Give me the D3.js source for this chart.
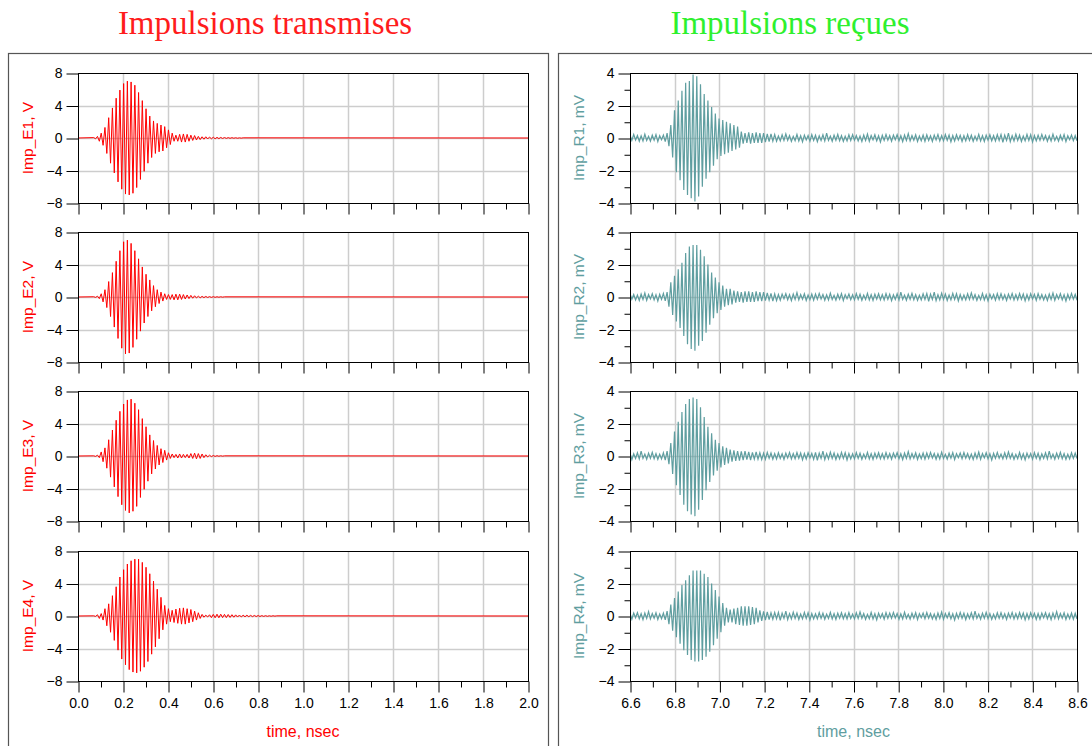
<!DOCTYPE html>
<html>
<head>
<meta charset="utf-8">
<script src="https://cdn.jsdelivr.net/npm/d3@7"></script>
<style>
  body { margin: 0; background: #fff; }
  svg { display: block; }
</style>
</head>
<body>
<script>
const width = 1092;
const height = 746;

// ---- transmitted pulses (V), one value per half period, from tTx0 in steps of dtTx (ns)
const tTx0 = 0.07;
const dtTx = 0.0083;
const txDomain = [0, 2];

const impE1 = [
  0.05,-0.1,0.2,-0.4,0.6,-0.9,1.3,-1.9,2.5,-3.1,
  3.7,-4.3,4.9,-5.4,5.9,-6.3,6.7,-6.9,7.0,-7.0,
  6.9,-6.8,6.5,-6.1,5.6,-5.1,4.6,-4.1,3.6,-3.1,
  2.7,-2.4,2.1,-1.9,1.8,-1.7,1.6,-1.6,1.4,-1.2,
  1.0,-0.8,0.6,-0.4,0.35,-0.4,0.45,-0.5,0.5,-0.5,
  0.45,-0.4,0.35,-0.3,0.3,-0.25,0.2,-0.2,0.15,-0.15,
  0.15,-0.12,0.12,-0.1,0.1,-0.1,0.08,-0.08,0.07,-0.06,
  0.06,-0.05,0.05,-0.04,0.04,-0.03,0.03,-0.03,0.02,-0.02,0.02
];
const impE2 = [
  0.03,-0.05,0.1,-0.2,0.4,-0.6,0.9,-1.3,1.9,-2.4,
  3.0,-3.7,4.4,-5.1,5.7,-6.3,6.8,-7.0,7.0,-6.9,
  6.6,-6.2,5.7,-5.2,4.7,-4.2,3.7,-3.2,2.8,-2.4,
  2.1,-1.7,1.4,-1.2,0.9,-0.8,0.6,-0.5,0.4,-0.3,
  0.3,-0.3,0.3,-0.35,0.35,-0.35,0.35,-0.3,0.3,-0.25,
  0.25,-0.2,0.2,-0.15,0.15,-0.12,0.1,-0.1,0.08,-0.08,
  0.07,-0.06,0.05,-0.05,0.04,-0.04,0.03,-0.03,0.03,-0.02,0.02
];
const impE3 = [
  0.02,-0.05,0.1,-0.2,0.5,-0.7,1.0,-1.5,2.0,-2.6,
  3.2,-3.8,4.4,-5.0,5.5,-6.0,6.4,-6.7,6.9,-7.0,
  7.0,-6.8,6.5,-6.2,5.7,-5.1,4.6,-4.1,3.6,-3.1,
  2.6,-2.2,1.9,-1.6,1.3,-1.1,0.9,-0.8,0.7,-0.5,
  0.4,-0.3,0.25,-0.2,0.2,-0.25,0.25,-0.25,0.2,-0.2,
  0.2,-0.25,0.3,-0.3,0.35,-0.35,0.3,-0.3,0.25,-0.2,
  0.15,-0.12,0.1,-0.08,0.06,-0.05,0.04,-0.03,0.03,-0.02,0.02
];
const impE4 = [
  0.02,-0.05,0.15,-0.3,0.3,-0.5,0.9,-1.2,1.5,-2.0,
  2.5,-3.0,3.6,-4.2,4.8,-5.3,5.7,-6.0,6.4,-6.6,
  6.8,-6.9,7.0,-7.0,7.0,-6.8,6.6,-6.3,6.0,-5.6,
  5.2,-4.7,4.3,-3.8,3.3,-2.8,2.3,-1.7,1.3,-1.0,
  0.9,-0.7,0.7,-0.8,0.85,-0.9,0.95,-1.0,1.0,-1.0,
  0.9,-0.85,0.8,-0.7,0.6,-0.5,0.4,-0.3,0.2,-0.15,
  0.1,-0.12,0.15,-0.2,0.2,-0.22,0.22,-0.22,0.22,-0.2,
  0.2,-0.2,0.18,-0.18,0.16,-0.15,0.14,-0.13,0.12,-0.12,
  0.1,-0.1,0.1,-0.09,0.08,-0.08,0.07,-0.07,0.06,-0.06,
  0.05,-0.05,0.04,-0.04,0.03,-0.03,0.03,-0.02,0.02
];

// ---- received pulses (mV), from tRx0 in steps of dtRx (ns)
const tRx0 = 6.6;
const dtRx = 0.0083;
const rxDomain = [6.6, 8.6];

const impR1 = [
  0.18,-0.15,0.22,-0.12,0.16,-0.2,0.14,-0.18,0.24,-0.15,0.1,-0.2,0.17,-0.14,0.21,-0.22,0.15,-0.1,0.18,-0.22,
  0.3,-0.5,0.8,-1.2,1.7,-2.1,2.3,-2.6,2.9,-3.2,3.4,-3.5,3.5,-3.7,3.9,-3.9,3.8,-3.6,3.3,-3.0,
  2.7,-2.5,2.3,-2.1,1.9,-1.7,1.5,-1.3,1.2,-1.1,1.1,-1.0,1.0,-0.9,0.9,-0.8,0.8,-0.7,0.7,-0.6,
  0.4,-0.35,0.3,-0.3,0.35,-0.35,0.3,-0.3,0.35,-0.3,0.3,-0.3,0.3,-0.25,0.25,-0.22,0.25,-0.2,0.22,-0.2,
  0.12,-0.18,0.2,-0.15,0.25,-0.14,0.15,-0.21,0.1,-0.17,0.22,-0.18,0.14,-0.24,0.18,-0.12,0.15,-0.2,0.21,-0.15,
  0.17,-0.22,0.14,-0.15,0.2,-0.18,0.3,-0.15,0.12,-0.2,0.18,-0.14,0.22,-0.17,0.15,-0.21,0.11,-0.18,0.2,-0.15,
  0.21,-0.14,0.15,-0.18,0.12,-0.22,0.18,-0.15,0.24,-0.2,0.15,-0.12,0.2,-0.18,0.14,-0.25,0.17,-0.15,0.22,-0.14,
  0.15,-0.2,0.18,-0.11,0.21,-0.17,0.14,-0.22,0.18,-0.15,0.27,-0.18,0.15,-0.14,0.2,-0.21,0.12,-0.17,0.18,-0.2,
  0.2,-0.15,0.14,-0.21,0.18,-0.12,0.22,-0.18,0.15,-0.17,0.21,-0.14,0.18,-0.24,0.15,-0.18,0.2,-0.12,0.17,-0.21,
  0.14,-0.18,0.21,-0.15,0.17,-0.2,0.12,-0.15,0.22,-0.18,0.15,-0.21,0.18,-0.14,0.2,-0.17,0.15,-0.18,0.21,-0.15,
  0.22,-0.27,0.18,-0.15,0.3,-0.22,0.15,-0.18,0.24,-0.15,0.18,-0.21,0.12,-0.18,0.22,-0.15,0.2,-0.24,0.15,-0.18,
  0.18,-0.15,0.22,-0.12,0.16,-0.2,0.14,-0.18,0.24,-0.15,0.1,-0.2,0.17,-0.14,0.21,-0.22,0.15,-0.1,0.18,-0.17,
  0.15,-0.18
];
const impR2 = [
  0.21,-0.14,0.15,-0.18,0.12,-0.22,0.18,-0.15,0.24,-0.2,0.15,-0.12,0.2,-0.18,0.14,-0.25,0.17,-0.15,0.22,-0.24,
  0.3,-0.6,0.9,-1.1,1.3,-1.5,1.7,-1.9,2.1,-2.4,2.7,-2.9,3.1,-3.2,3.2,-3.3,3.2,-3.0,2.9,-2.7,
  2.5,-2.2,2.0,-1.7,1.5,-1.3,1.2,-1.0,0.9,-0.8,0.7,-0.6,0.5,-0.5,0.5,-0.45,0.4,-0.35,0.35,-0.3,
  0.3,-0.35,0.35,-0.3,0.35,-0.3,0.3,-0.3,0.35,-0.25,0.3,-0.25,0.3,-0.22,0.25,-0.2,0.22,-0.25,0.2,-0.22,
  0.15,-0.2,0.18,-0.11,0.21,-0.17,0.14,-0.22,0.18,-0.15,0.27,-0.18,0.15,-0.14,0.2,-0.21,0.12,-0.17,0.18,-0.2,
  0.18,-0.15,0.22,-0.12,0.16,-0.2,0.14,-0.18,0.24,-0.15,0.1,-0.2,0.17,-0.14,0.21,-0.22,0.15,-0.1,0.18,-0.17,
  0.14,-0.18,0.21,-0.15,0.17,-0.2,0.12,-0.15,0.22,-0.18,0.15,-0.21,0.18,-0.14,0.2,-0.17,0.15,-0.18,0.21,-0.15,
  0.17,-0.22,0.14,-0.15,0.2,-0.18,0.3,-0.15,0.12,-0.2,0.18,-0.14,0.22,-0.17,0.15,-0.21,0.11,-0.18,0.2,-0.15,
  0.22,-0.27,0.18,-0.15,0.3,-0.22,0.15,-0.18,0.24,-0.15,0.18,-0.21,0.12,-0.18,0.22,-0.15,0.2,-0.24,0.15,-0.18,
  0.12,-0.18,0.2,-0.15,0.25,-0.14,0.15,-0.21,0.1,-0.17,0.22,-0.18,0.14,-0.24,0.18,-0.12,0.15,-0.2,0.21,-0.15,
  0.2,-0.15,0.14,-0.21,0.18,-0.12,0.22,-0.18,0.15,-0.17,0.21,-0.14,0.18,-0.24,0.15,-0.18,0.2,-0.12,0.17,-0.21,
  0.21,-0.14,0.15,-0.18,0.12,-0.22,0.18,-0.15,0.24,-0.2,0.15,-0.12,0.2,-0.18,0.14,-0.25,0.17,-0.15,0.22,-0.14,
  0.16,-0.2
];
const impR3 = [
  0.17,-0.22,0.14,-0.15,0.2,-0.18,0.3,-0.15,0.12,-0.2,0.18,-0.14,0.22,-0.17,0.15,-0.21,0.11,-0.18,0.2,-0.25,
  0.3,-0.5,0.8,-1.1,1.5,-1.8,2.1,-2.4,2.7,-3.0,3.2,-3.4,3.5,-3.6,3.6,-3.7,3.5,-3.3,3.0,-2.7,
  2.4,-2.1,1.8,-1.6,1.4,-1.2,1.0,-0.9,0.8,-0.7,0.6,-0.55,0.5,-0.45,0.4,-0.35,0.35,-0.3,0.3,-0.28,
  0.28,-0.25,0.3,-0.22,0.25,-0.25,0.22,-0.2,0.25,-0.2,0.2,-0.22,0.18,-0.2,0.22,-0.15,0.18,-0.2,0.15,-0.18,
  0.2,-0.15,0.14,-0.21,0.18,-0.12,0.22,-0.18,0.15,-0.17,0.21,-0.14,0.18,-0.24,0.15,-0.18,0.2,-0.12,0.17,-0.21,
  0.22,-0.27,0.18,-0.15,0.3,-0.22,0.15,-0.18,0.24,-0.15,0.18,-0.21,0.12,-0.18,0.22,-0.15,0.2,-0.24,0.15,-0.18,
  0.14,-0.18,0.21,-0.15,0.17,-0.2,0.12,-0.15,0.22,-0.18,0.15,-0.21,0.18,-0.14,0.2,-0.17,0.15,-0.18,0.21,-0.15,
  0.15,-0.2,0.18,-0.11,0.21,-0.17,0.14,-0.22,0.18,-0.15,0.27,-0.18,0.15,-0.14,0.2,-0.21,0.12,-0.17,0.18,-0.2,
  0.18,-0.15,0.22,-0.12,0.16,-0.2,0.14,-0.18,0.24,-0.15,0.1,-0.2,0.17,-0.14,0.21,-0.22,0.15,-0.1,0.18,-0.17,
  0.21,-0.14,0.15,-0.18,0.12,-0.22,0.18,-0.15,0.24,-0.2,0.15,-0.12,0.2,-0.18,0.14,-0.25,0.17,-0.15,0.22,-0.14,
  0.12,-0.18,0.2,-0.15,0.25,-0.14,0.15,-0.21,0.1,-0.17,0.22,-0.18,0.14,-0.24,0.18,-0.12,0.15,-0.2,0.21,-0.15,
  0.17,-0.22,0.14,-0.15,0.2,-0.18,0.3,-0.15,0.12,-0.2,0.18,-0.14,0.22,-0.17,0.15,-0.21,0.11,-0.18,0.2,-0.15,
  0.18,-0.16
];
const impR4 = [
  0.15,-0.2,0.18,-0.11,0.21,-0.17,0.14,-0.22,0.18,-0.15,0.27,-0.18,0.15,-0.14,0.2,-0.21,0.12,-0.17,0.18,-0.24,
  0.3,-0.5,0.7,-0.9,1.1,-1.3,1.5,-1.7,1.9,-2.1,2.2,-2.4,2.5,-2.7,2.8,-2.8,2.8,-2.8,2.8,-2.7,
  2.6,-2.5,2.4,-2.2,2.0,-1.8,1.6,-1.4,1.2,-1.0,0.8,-0.6,0.5,-0.4,0.4,-0.4,0.45,-0.5,0.5,-0.55,
  0.6,-0.6,0.6,-0.6,0.6,-0.55,0.55,-0.5,0.5,-0.4,0.35,-0.3,0.28,-0.25,0.25,-0.22,0.2,-0.2,0.22,-0.18,
  0.22,-0.27,0.18,-0.15,0.3,-0.22,0.15,-0.18,0.24,-0.15,0.18,-0.21,0.12,-0.18,0.22,-0.15,0.2,-0.24,0.15,-0.18,
  0.14,-0.18,0.21,-0.15,0.17,-0.2,0.12,-0.15,0.22,-0.18,0.15,-0.21,0.18,-0.14,0.2,-0.17,0.15,-0.18,0.21,-0.15,
  0.12,-0.18,0.2,-0.15,0.25,-0.14,0.15,-0.21,0.1,-0.17,0.22,-0.18,0.14,-0.24,0.18,-0.12,0.15,-0.2,0.21,-0.15,
  0.18,-0.15,0.22,-0.12,0.16,-0.2,0.14,-0.18,0.24,-0.15,0.1,-0.2,0.17,-0.14,0.21,-0.22,0.15,-0.1,0.18,-0.17,
  0.21,-0.14,0.15,-0.18,0.12,-0.22,0.18,-0.15,0.24,-0.2,0.15,-0.12,0.2,-0.18,0.14,-0.25,0.17,-0.15,0.22,-0.14,
  0.17,-0.22,0.14,-0.15,0.2,-0.18,0.3,-0.15,0.12,-0.2,0.18,-0.14,0.22,-0.17,0.15,-0.21,0.11,-0.18,0.2,-0.15,
  0.2,-0.15,0.14,-0.21,0.18,-0.12,0.22,-0.18,0.15,-0.17,0.21,-0.14,0.18,-0.24,0.15,-0.18,0.2,-0.12,0.17,-0.21,
  0.15,-0.2,0.18,-0.11,0.21,-0.17,0.14,-0.22,0.18,-0.15,0.27,-0.18,0.15,-0.14,0.2,-0.21,0.12,-0.17,0.18,-0.2,
  0.17,-0.19
];

const txLabels = ["Imp_E1, V", "Imp_E2, V", "Imp_E3, V", "Imp_E4, V"];
const rxLabels = ["Imp_R1, mV", "Imp_R2, mV", "Imp_R3, mV", "Imp_R4, mV"];
const txYMajor = [-8, -4, 0, 4, 8];
const txYMinor = [];
const rxYMajor = [-4, -2, 0, 2, 4];
const rxYMinor = [-3, -1, 1, 3];
const xStep = 0.1;   // minor tick step, labelled every second one

// ---- layout
const plotTops = [73, 232, 391, 551];
const plotH = 130;
const sans = "'Liberation Sans', Arial, sans-serif";

const panels = [
  {
    title: "Impulsions transmises", titleColor: "#ff1c1c", titleX: 265,
    boxX: 8.5, boxW: 540, left: 78, right: 528, labelX: 28,
    domain: txDomain, t0: tTx0, dt: dtTx, series: [impE1, impE2, impE3, impE4],
    labels: txLabels, yDomain: [-8, 8], yMajor: txYMajor, yMinor: txYMinor,
    color: "#ff0000", lineWidth: 1
  },
  {
    title: "Impulsions reçues", titleColor: "#2ef02e", titleX: 790,
    boxX: 558.5, boxW: 560, left: 630, right: 1077, labelX: 579,
    domain: rxDomain, t0: tRx0, dt: dtRx, series: [impR1, impR2, impR3, impR4],
    labels: rxLabels, yDomain: [-4, 4], yMajor: rxYMajor, yMinor: rxYMinor,
    color: "#5f9ea0", lineWidth: 1.2
  }
];

const svg = d3.select("body").append("svg")
  .attr("width", width)
  .attr("height", height);

panels.forEach((p, pi) => {
  svg.append("text")
    .attr("x", p.titleX)
    .attr("y", 34)
    .attr("text-anchor", "middle")
    .attr("font-family", "'Liberation Serif', 'DejaVu Serif', serif")
    .attr("font-size", 33)
    .attr("fill", p.titleColor)
    .text(p.title);

  svg.append("rect")
    .attr("x", p.boxX).attr("y", 53.5)
    .attr("width", p.boxW).attr("height", 760)
    .attr("fill", "none")
    .attr("stroke", "#555")
    .attr("stroke-width", 1.2);

  const x = d3.scaleLinear().domain(p.domain).range([p.left, p.right]);
  const nSteps = Math.round((p.domain[1] - p.domain[0]) / xStep);
  const xMinor = d3.range(nSteps + 1).map(i => p.domain[0] + i * xStep);
  const xMajor = xMinor.filter((d, i) => i % 2 === 0);

  p.series.forEach((vals, si) => {
    const top = plotTops[si];
    const y = d3.scaleLinear().domain(p.yDomain).range([top + plotH, top]);
    const g = svg.append("g");

    // grid
    g.append("g").selectAll("line")
      .data(xMajor.slice(1, -1))
      .join("line")
      .attr("x1", d => Math.round(x(d)) + 0.5).attr("x2", d => Math.round(x(d)) + 0.5)
      .attr("y1", top).attr("y2", top + plotH)
      .attr("stroke", "#cdcdcd").attr("stroke-width", 1.5);
    g.append("g").selectAll("line")
      .data(p.yMajor.slice(1, -1))
      .join("line")
      .attr("x1", p.left).attr("x2", p.right)
      .attr("y1", d => Math.round(y(d)) + 0.5).attr("y2", d => Math.round(y(d)) + 0.5)
      .attr("stroke", "#cdcdcd").attr("stroke-width", 1.5);

    // signal
    const clipId = `clip-${pi}-${si}`;
    g.append("clipPath").attr("id", clipId)
      .append("rect")
      .attr("x", p.left).attr("y", top)
      .attr("width", p.right - p.left).attr("height", plotH);

    let pts = vals.map((v, i) => ({t: p.t0 + i * p.dt, v: v}));
    if (pts[0].t > p.domain[0]) pts.unshift({t: p.domain[0], v: 0});
    if (pts[pts.length - 1].t < p.domain[1]) pts.push({t: p.domain[1], v: 0});

    const line = d3.line().x(d => x(d.t)).y(d => y(d.v));
    g.append("path")
      .datum(pts)
      .attr("clip-path", `url(#${clipId})`)
      .attr("fill", "none")
      .attr("stroke", p.color)
      .attr("stroke-width", p.lineWidth)
      .attr("d", line);

    // frame
    g.append("rect")
      .attr("x", p.left + 0.5).attr("y", top + 0.5)
      .attr("width", p.right - p.left).attr("height", plotH)
      .attr("fill", "none").attr("stroke", "#000").attr("stroke-width", 1);

    // y axis
    const yAxis = g.append("g")
      .attr("transform", `translate(${p.left + 0.5},0.5)`)
      .call(d3.axisLeft(y).tickValues(p.yMajor).tickSize(12).tickPadding(4));
    if (p.yMinor.length) {
      g.append("g")
        .attr("transform", `translate(${p.left + 0.5},0.5)`)
        .call(d3.axisLeft(y).tickValues(p.yMinor).tickSize(6).tickFormat(""))
        .call(a => a.select(".domain").remove());
    }
    yAxis.select(".domain").remove();
    yAxis.selectAll("text").attr("font-family", sans).attr("font-size", 14).attr("fill", "#000");

    // x axis ticks below each plot, labels only on the last one
    const last = si === p.series.length - 1;
    g.append("g")
      .attr("transform", `translate(0.5,${top + plotH + 0.5})`)
      .call(d3.axisBottom(x).tickValues(xMinor.filter((d, i) => i % 2 === 1)).tickSize(6).tickFormat(""))
      .call(a => a.select(".domain").remove());
    const xAxis = g.append("g")
      .attr("transform", `translate(0.5,${top + plotH + 0.5})`)
      .call(d3.axisBottom(x).tickValues(xMajor).tickSize(11).tickPadding(6)
        .tickFormat(last ? d3.format(".1f") : ""));
    xAxis.select(".domain").remove();
    xAxis.selectAll("text").attr("font-family", sans).attr("font-size", 14).attr("fill", "#000");

    // y label
    svg.append("text")
      .attr("transform", `translate(${p.labelX},${top + plotH / 2}) rotate(-90)`)
      .attr("text-anchor", "middle")
      .attr("dy", "0.35em")
      .attr("font-family", sans)
      .attr("font-size", 15.5)
      .attr("fill", p.color)
      .text(p.labels[si]);
  });

  svg.append("text")
    .attr("x", (p.left + p.right) / 2)
    .attr("y", 737)
    .attr("text-anchor", "middle")
    .attr("font-family", sans)
    .attr("font-size", 16)
    .attr("fill", p.color)
    .text("time, nsec");
});
</script>
</body>
</html>
